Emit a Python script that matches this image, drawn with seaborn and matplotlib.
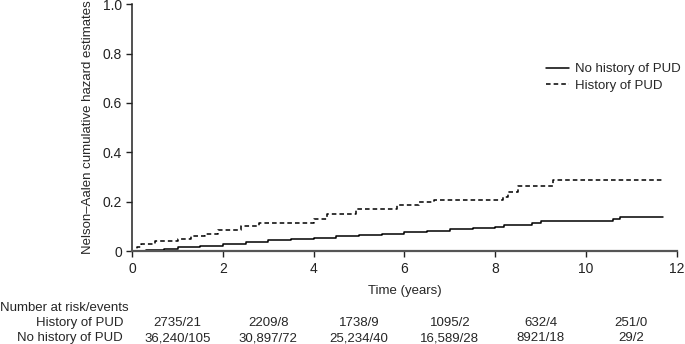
import seaborn as sns
import matplotlib.pyplot as plt
import matplotlib.transforms as mtransforms
import pandas as pd

# step curves (time in years, cumulative hazard)
no_hist_t = [0, 0.3, 0.7, 1.0, 1.5, 2.0, 2.5, 3.0, 3.5, 4.0, 4.5, 5.0, 5.5, 6.0, 6.5,
             7.0, 7.5, 8.0, 8.2, 8.8, 9.0, 10.6, 10.75, 11.7]
no_hist_y = [0, 0.005, 0.01, 0.015, 0.022, 0.03, 0.036, 0.043, 0.049, 0.055, 0.061, 0.065,
             0.071, 0.078, 0.083, 0.088, 0.093, 0.098, 0.105, 0.112, 0.123, 0.13, 0.139, 0.139]

hist_t = [0, 0.1, 0.2, 0.5, 1.0, 1.3, 1.6, 1.9, 2.4, 2.8, 4.0, 4.3, 4.93, 5.84, 6.32,
          6.65, 8.18, 8.29, 8.51, 9.28, 11.7]
hist_y = [0, 0.015, 0.03, 0.04, 0.05, 0.06, 0.07, 0.085, 0.1, 0.115, 0.13, 0.15, 0.169,
          0.186, 0.197, 0.206, 0.22, 0.24, 0.263, 0.287, 0.287]

risk_times = [1, 3, 5, 7, 9, 11]
risk_hist = ["2735/21", "2209/8", "1738/9", "1095/2", "632/4", "251/0"]
risk_no_hist = ["36,240/105", "30,897/72", "25,234/40", "16,589/28", "8921/18", "29/2"]

sns.set_style("ticks")
plt.rcParams["font.family"] = ["Liberation Sans", "DejaVu Sans"]

df = pd.concat([
    pd.DataFrame({"t": no_hist_t, "h": no_hist_y, "group": "No history of PUD"}),
    pd.DataFrame({"t": hist_t, "h": hist_y, "group": "History of PUD"}),
])

fig = plt.figure(figsize=(6.85, 3.44), dpi=100)
ax = fig.add_axes([0.193, 0.270, 0.795, 0.718])

sns.lineplot(data=df, x="t", y="h", style="group", color="black", linewidth=1.1,
             drawstyle="steps-post", dashes={"No history of PUD": "", "History of PUD": (3, 2)},
             ax=ax, estimator=None, sort=False)

ax.set_xlim(0, 12)
ax.set_ylim(0, 1.0)
ax.set_xticks(range(0, 13, 2))
ax.set_yticks([0, 0.2, 0.4, 0.6, 0.8, 1.0])
ax.set_yticklabels(["0", "0.2", "0.4", "0.6", "0.8", "1.0"])
ax.tick_params(labelsize=10, length=4, width=1, colors="#222222")
for s in ["top", "right"]:
    ax.spines[s].set_visible(False)
ax.spines["left"].set_linewidth(1.1)
ax.spines["left"].set_color("#222222")
ax.spines["bottom"].set_linewidth(1.6)
ax.spines["bottom"].set_color("#555555")

ax.set_xlabel("")
ax.set_ylabel("Nelson\u2013Aalen cumulative hazard estimates", fontsize=9.5, labelpad=6)

leg = ax.legend(loc="upper right", bbox_to_anchor=(681 / 685, 1 - 63 / 344),
                bbox_transform=fig.transFigure, frameon=False, borderpad=0, borderaxespad=0,
                fontsize=9.5, handlelength=1.8, handletextpad=0.45, labelspacing=0.35)

# x label and risk table below the axis
trans = mtransforms.blended_transform_factory(ax.transData, ax.transAxes)
ax.text(0.5, -0.16, "Time (years)", transform=ax.transAxes, ha="center", va="center", fontsize=9.5)
fig.text(0.0, 1 - 308 / 344, "Number at risk/events", ha="left", va="center", fontsize=9.5)
fig.text(123 / 685, 1 - 323 / 344, "History of PUD", ha="right", va="center", fontsize=9.5)
fig.text(123 / 685, 1 - 338 / 344, "No history of PUD", ha="right", va="center", fontsize=9.5)
for t, a, b in zip(risk_times, risk_hist, risk_no_hist):
    ax.text(t, -0.291, a, transform=trans, ha="center", va="center", fontsize=9.5)
    ax.text(t, -0.352, b, transform=trans, ha="center", va="center", fontsize=9.5)

fig.savefig("out.png", dpi=100)
